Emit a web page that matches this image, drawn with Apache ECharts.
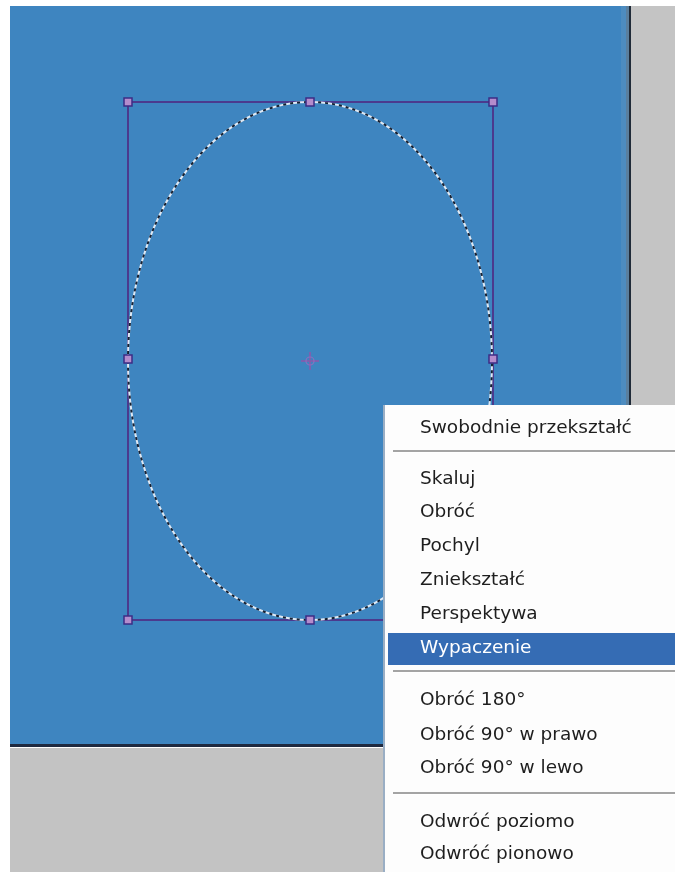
<!DOCTYPE html>
<html><head><meta charset="utf-8">
<script src="https://cdn.jsdelivr.net/npm/echarts@6/dist/echarts.min.js"></script>
<style>html,body{margin:0;padding:0;background:#fff}#c{width:675px;height:872px}</style>
</head><body><div id="c"></div>
<script>
// ---- data (image pixel units on hidden axes) ----
const canvasArea = [[10, 6, 631, 747]];           // x0,y0,x1,y1
const rightGray = [[631, 6, 675, 872]];
const bottomGray = [[10, 748, 631, 872]];
const boxCorners = [[128, 102, 493, 620]];
const handlePoints = [[128,102],[310,102],[493,102],[128,359],[493,359],[128,620],[310,620],[493,620]];
const ellipseData = [[310, 361, 182, 259]];        // cx, cy, rx, ry
const pivotPoint = [[310, 361]];
const menuArea = [[383, 405, 675, 872]];
const menuLabels = ['Swobodnie przekształć','Skaluj','Obróć','Pochyl','Zniekształć','Perspektywa','Wypaczenie','Obróć 180°','Obróć 90° w prawo','Obróć 90° w lewo','Odwróć poziomo','Odwróć pionowo'];
const menuRowY = [428, 479, 512, 546, 580, 614, 648, 700, 735, 768, 822, 854];
const separatorY = [451, 671, 793];
const selectedLabel = 'Wypaczenie';
const selectedBand = [[388, 633, 675, 665]];

const chart = echarts.init(document.getElementById('c'));

function rectItem(color, stroke, lw) {
  return function (params, api) {
    const p0 = api.coord([api.value(0), api.value(1)]);
    const p1 = api.coord([api.value(2), api.value(3)]);
    return {type:'rect', shape:{x:p0[0], y:p0[1], width:p1[0]-p0[0], height:p1[1]-p0[1]},
      style:{fill: color, stroke: stroke || null, lineWidth: lw || 0}};
  };
}

const FONT = '18.5px "DejaVu Sans"';

chart.setOption({
  animation: false,
  backgroundColor: '#ffffff',
  grid: {left:0, right:0, top:0, bottom:0},
  xAxis: {type:'value', min:0, max:675, show:false},
  yAxis: {type:'value', min:0, max:872, inverse:true, show:false},
  series: [
    {type:'custom', z:1, clip:false, data: canvasArea, renderItem: function(params, api){
      const p0 = api.coord([api.value(0), api.value(1)]);
      const p1 = api.coord([api.value(2), api.value(3)]);
      return {type:'group', children:[
        {type:'rect', shape:{x:p0[0], y:p0[1], width:p1[0]-p0[0], height:p1[1]-p0[1]}, style:{fill:'#3e85c0'}},
        {type:'rect', shape:{x:p1[0]-10, y:p0[1], width:5, height:p1[1]-p0[1]}, style:{fill:'#4d8cc0'}},
        {type:'rect', shape:{x:p1[0]-5, y:p0[1], width:3, height:p1[1]-p0[1]}, style:{fill:'#5a7f9e'}},
        {type:'rect', shape:{x:p1[0]-2, y:p0[1], width:2, height:p1[1]-p0[1]}, style:{fill:'#1f2a38'}},
        {type:'rect', shape:{x:p0[0], y:p1[1]-3, width:p1[0]-p0[0], height:3}, style:{fill:'#1f2a40'}}
      ]};
    }},
    {type:'custom', z:1, clip:false, data: rightGray, renderItem: rectItem('#c4c4c4')},
    {type:'custom', z:1, clip:false, data: bottomGray, renderItem: rectItem('#c3c3c3')},
    {type:'custom', z:3, clip:false, data: boxCorners, renderItem: function(params, api){
      const p0 = api.coord([api.value(0), api.value(1)]);
      const p1 = api.coord([api.value(2), api.value(3)]);
      return {type:'rect', shape:{x:p0[0], y:p0[1], width:p1[0]-p0[0], height:p1[1]-p0[1]},
        style:{fill:null, stroke:'#4b3a8e', lineWidth:2}};
    }},
    {type:'custom', z:4, clip:false, data: ellipseData, renderItem: function(params, api){
      const c = api.coord([api.value(0), api.value(1)]);
      const s = api.size([api.value(2), api.value(3)]);
      return {type:'group', children:[
        {type:'ellipse', shape:{cx:c[0], cy:c[1], rx:s[0], ry:s[1]}, style:{fill:null, stroke:'#dfe9f4', lineWidth:2}},
        {type:'ellipse', shape:{cx:c[0], cy:c[1], rx:s[0], ry:s[1]}, style:{fill:null, stroke:'#142033', lineWidth:2, lineDash:[3,4]}}
      ]};
    }},
    {type:'scatter', z:5, data: handlePoints, symbol:'rect', symbolSize:8,
      itemStyle:{color:'#b48ccc', borderColor:'#3c2d85', borderWidth:1.5, opacity:1}, silent:true},
    {type:'custom', z:5, clip:false, data: pivotPoint, renderItem: function(params, api){
      const c = api.coord([api.value(0), api.value(1)]);
      return {type:'group', children:[
        {type:'line', shape:{x1:c[0]-9, y1:c[1], x2:c[0]+9, y2:c[1]}, style:{stroke:'#7a62b0', lineWidth:2}},
        {type:'line', shape:{x1:c[0], y1:c[1]-9, x2:c[0], y2:c[1]+9}, style:{stroke:'#7a62b0', lineWidth:2}},
        {type:'circle', shape:{cx:c[0], cy:c[1], r:4}, style:{fill:null, stroke:'#8a70c0', lineWidth:1.2}}
      ]};
    }},
    {type:'custom', z:10, clip:false, data: menuArea, renderItem: function(params, api){
      const p0 = api.coord([api.value(0), api.value(1)]);
      const p1 = api.coord([api.value(2), api.value(3)]);
      return {type:'group', children:[
        {type:'rect', shape:{x:p0[0], y:p0[1], width:p1[0]-p0[0], height:p1[1]-p0[1]}, style:{fill:'#fdfdfd'}},
        {type:'rect', shape:{x:p0[0], y:p0[1], width:2, height:p1[1]-p0[1]}, style:{fill:'#9aaec4'}}
      ]};
    }},
    {type:'custom', z:11, clip:false, data: selectedBand, renderItem: rectItem('#356cb4')},
    {type:'custom', z:11, clip:false, data: separatorY.map(function(y){return [y];}), renderItem: function(params, api){
      const p0 = api.coord([393, api.value(0)]);
      const p1 = api.coord([675, api.value(0)]);
      return {type:'group', children:[
        {type:'rect', shape:{x:p0[0], y:p0[1]-1, width:p1[0]-p0[0], height:2}, style:{fill:'#a4a4a4'}},
        {type:'rect', shape:{x:p0[0], y:p0[1]+1, width:p1[0]-p0[0], height:1}, style:{fill:'#ffffff'}}
      ]};
    }},
    {type:'custom', z:12, clip:false, data: menuLabels.map(function(l, i){return [menuRowY[i], l];}), renderItem: function(params, api){
      const label = menuLabels[params.dataIndex];
      const p = api.coord([420, api.value(0)]);
      return {type:'text', style:{text: label, x:p[0], y:p[1], font: FONT, fill: label === selectedLabel ? '#ffffff' : '#1e1e1e', align:'left', verticalAlign:'middle'}};
    }}
  ]
});
</script></body></html>
